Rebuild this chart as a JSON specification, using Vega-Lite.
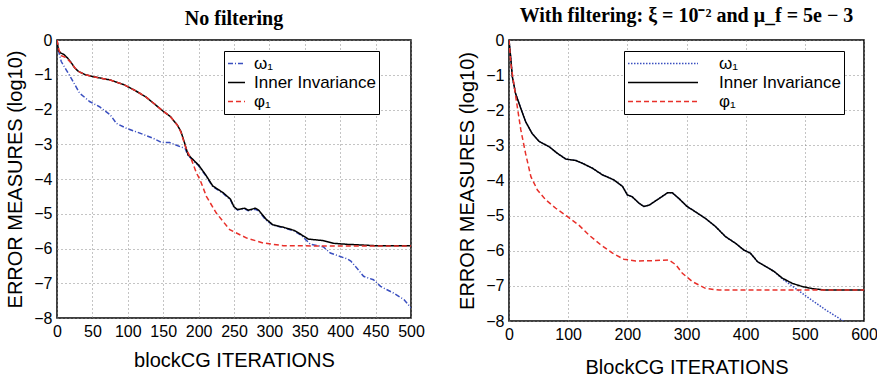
{
  "$schema": "https://vega.github.io/schema/vega-lite/v6.json",
  "background": "white",
  "padding": {"left": 5, "top": 5, "right": 5, "bottom": 5},
  "spacing": 31,
  "config": {
    "font": "Liberation Sans",
    "view": {"stroke": "black", "strokeWidth": 1.5},
    "axis": {
      "labelFont": "Liberation Sans",
      "labelFontSize": 16,
      "labelColor": "black",
      "labelOverlap": false,
      "labelFlush": false,
      "titleFont": "Liberation Sans",
      "titleFontSize": 20,
      "titleFontWeight": "normal",
      "titleColor": "black",
      "ticks": false,
      "domain": false,
      "grid": true,
      "gridColor": "#888",
      "gridDash": [1, 3],
      "gridWidth": 1,
      "labelPadding": 5
    },
    "title": {"font": "Liberation Serif", "fontSize": 20, "fontWeight": "bold", "color": "black", "anchor": "middle"},
    "legend": {
      "orient": "none",
      "strokeColor": "black",
      "fillColor": "white",
      "padding": 3,
      "symbolType": "stroke",
      "symbolStrokeWidth": 1.5,
      "labelFont": "Liberation Sans",
      "labelFontSize": 17,
      "labelColor": "black",
      "rowPadding": 0,
      "clipHeight": 19,
      "labelLimit": 300
    }
  },
  "datasets": {
    "left": [
      {"x": 0, "y": 0, "s": "ω₁"}, {"x": 2, "y": -0.3, "s": "ω₁"}, {"x": 6, "y": -0.62, "s": "ω₁"}, {"x": 13, "y": -0.86, "s": "ω₁"}, {"x": 20, "y": -1.1, "s": "ω₁"}, {"x": 32, "y": -1.53, "s": "ω₁"}, {"x": 46, "y": -1.77, "s": "ω₁"}, {"x": 60, "y": -1.92, "s": "ω₁"}, {"x": 75, "y": -2.15, "s": "ω₁"}, {"x": 84, "y": -2.4, "s": "ω₁"}, {"x": 98, "y": -2.54, "s": "ω₁"}, {"x": 117, "y": -2.68, "s": "ω₁"}, {"x": 136, "y": -2.83, "s": "ω₁"}, {"x": 148, "y": -2.95, "s": "ω₁"}, {"x": 159, "y": -2.95, "s": "ω₁"}, {"x": 174, "y": -3.07, "s": "ω₁"}, {"x": 181, "y": -3.12, "s": "ω₁"}, {"x": 185, "y": -3.32, "s": "ω₁"}, {"x": 200, "y": -3.62, "s": "ω₁"}, {"x": 210, "y": -3.9, "s": "ω₁"}, {"x": 220, "y": -4.22, "s": "ω₁"}, {"x": 235, "y": -4.42, "s": "ω₁"}, {"x": 245, "y": -4.6, "s": "ω₁"}, {"x": 250, "y": -4.82, "s": "ω₁"}, {"x": 255, "y": -4.89, "s": "ω₁"}, {"x": 265, "y": -4.86, "s": "ω₁"}, {"x": 270, "y": -4.91, "s": "ω₁"}, {"x": 280, "y": -4.87, "s": "ω₁"}, {"x": 285, "y": -4.92, "s": "ω₁"}, {"x": 295, "y": -5.18, "s": "ω₁"}, {"x": 305, "y": -5.33, "s": "ω₁"}, {"x": 320, "y": -5.4, "s": "ω₁"}, {"x": 335, "y": -5.5, "s": "ω₁"}, {"x": 345, "y": -5.62, "s": "ω₁"}, {"x": 358, "y": -5.88, "s": "ω₁"}, {"x": 376, "y": -5.95, "s": "ω₁"}, {"x": 386, "y": -6.13, "s": "ω₁"}, {"x": 400, "y": -6.23, "s": "ω₁"}, {"x": 410, "y": -6.3, "s": "ω₁"}, {"x": 415, "y": -6.36, "s": "ω₁"}, {"x": 423, "y": -6.55, "s": "ω₁"}, {"x": 433, "y": -6.8, "s": "ω₁"}, {"x": 447, "y": -6.9, "s": "ω₁"}, {"x": 457, "y": -7.09, "s": "ω₁"}, {"x": 475, "y": -7.28, "s": "ω₁"}, {"x": 490, "y": -7.47, "s": "ω₁"}, {"x": 500, "y": -7.71, "s": "ω₁"},
      {"x": 0, "y": 0, "s": "Inner Invariance"}, {"x": 2, "y": -0.3, "s": "Inner Invariance"}, {"x": 5, "y": -0.37, "s": "Inner Invariance"}, {"x": 10, "y": -0.42, "s": "Inner Invariance"}, {"x": 15, "y": -0.52, "s": "Inner Invariance"}, {"x": 20, "y": -0.65, "s": "Inner Invariance"}, {"x": 25, "y": -0.8, "s": "Inner Invariance"}, {"x": 30, "y": -0.9, "s": "Inner Invariance"}, {"x": 40, "y": -1.0, "s": "Inner Invariance"}, {"x": 50, "y": -1.05, "s": "Inner Invariance"}, {"x": 75, "y": -1.15, "s": "Inner Invariance"}, {"x": 95, "y": -1.29, "s": "Inner Invariance"}, {"x": 110, "y": -1.45, "s": "Inner Invariance"}, {"x": 125, "y": -1.63, "s": "Inner Invariance"}, {"x": 140, "y": -1.88, "s": "Inner Invariance"}, {"x": 150, "y": -2.05, "s": "Inner Invariance"}, {"x": 160, "y": -2.2, "s": "Inner Invariance"}, {"x": 170, "y": -2.45, "s": "Inner Invariance"}, {"x": 175, "y": -2.63, "s": "Inner Invariance"}, {"x": 180, "y": -2.95, "s": "Inner Invariance"}, {"x": 185, "y": -3.3, "s": "Inner Invariance"}, {"x": 200, "y": -3.6, "s": "Inner Invariance"}, {"x": 210, "y": -3.88, "s": "Inner Invariance"}, {"x": 220, "y": -4.2, "s": "Inner Invariance"}, {"x": 235, "y": -4.4, "s": "Inner Invariance"}, {"x": 245, "y": -4.58, "s": "Inner Invariance"}, {"x": 250, "y": -4.8, "s": "Inner Invariance"}, {"x": 255, "y": -4.88, "s": "Inner Invariance"}, {"x": 265, "y": -4.84, "s": "Inner Invariance"}, {"x": 270, "y": -4.9, "s": "Inner Invariance"}, {"x": 280, "y": -4.84, "s": "Inner Invariance"}, {"x": 285, "y": -4.9, "s": "Inner Invariance"}, {"x": 295, "y": -5.15, "s": "Inner Invariance"}, {"x": 305, "y": -5.32, "s": "Inner Invariance"}, {"x": 320, "y": -5.39, "s": "Inner Invariance"}, {"x": 335, "y": -5.48, "s": "Inner Invariance"}, {"x": 345, "y": -5.6, "s": "Inner Invariance"}, {"x": 355, "y": -5.73, "s": "Inner Invariance"}, {"x": 375, "y": -5.77, "s": "Inner Invariance"}, {"x": 390, "y": -5.85, "s": "Inner Invariance"}, {"x": 410, "y": -5.88, "s": "Inner Invariance"}, {"x": 450, "y": -5.92, "s": "Inner Invariance"}, {"x": 500, "y": -5.92, "s": "Inner Invariance"},
      {"x": 0, "y": 0, "s": "φ₁"}, {"x": 3, "y": -0.3, "s": "φ₁"}, {"x": 6, "y": -0.45, "s": "φ₁"}, {"x": 10, "y": -0.48, "s": "φ₁"}, {"x": 15, "y": -0.55, "s": "φ₁"}, {"x": 20, "y": -0.66, "s": "φ₁"}, {"x": 25, "y": -0.8, "s": "φ₁"}, {"x": 30, "y": -0.9, "s": "φ₁"}, {"x": 40, "y": -1.0, "s": "φ₁"}, {"x": 50, "y": -1.05, "s": "φ₁"}, {"x": 75, "y": -1.15, "s": "φ₁"}, {"x": 95, "y": -1.29, "s": "φ₁"}, {"x": 110, "y": -1.45, "s": "φ₁"}, {"x": 125, "y": -1.63, "s": "φ₁"}, {"x": 140, "y": -1.88, "s": "φ₁"}, {"x": 150, "y": -2.05, "s": "φ₁"}, {"x": 160, "y": -2.2, "s": "φ₁"}, {"x": 170, "y": -2.45, "s": "φ₁"}, {"x": 175, "y": -2.65, "s": "φ₁"}, {"x": 180, "y": -2.98, "s": "φ₁"}, {"x": 183, "y": -3.16, "s": "φ₁"}, {"x": 190, "y": -3.45, "s": "φ₁"}, {"x": 197, "y": -3.83, "s": "φ₁"}, {"x": 202, "y": -4.02, "s": "φ₁"}, {"x": 211, "y": -4.5, "s": "φ₁"}, {"x": 225, "y": -4.98, "s": "φ₁"}, {"x": 244, "y": -5.46, "s": "φ₁"}, {"x": 268, "y": -5.7, "s": "φ₁"}, {"x": 291, "y": -5.84, "s": "φ₁"}, {"x": 320, "y": -5.92, "s": "φ₁"}, {"x": 400, "y": -5.93, "s": "φ₁"}, {"x": 500, "y": -5.93, "s": "φ₁"}
    ],
    "right": [
      {"x": 0, "y": 0, "s": "ω₁"}, {"x": 3, "y": -0.52, "s": "ω₁"}, {"x": 5.6, "y": -1.04, "s": "ω₁"}, {"x": 11, "y": -1.52, "s": "ω₁"}, {"x": 20, "y": -1.95, "s": "ω₁"}, {"x": 28, "y": -2.32, "s": "ω₁"}, {"x": 39, "y": -2.66, "s": "ω₁"}, {"x": 51, "y": -2.89, "s": "ω₁"}, {"x": 68, "y": -3.04, "s": "ω₁"}, {"x": 82, "y": -3.23, "s": "ω₁"}, {"x": 96, "y": -3.39, "s": "ω₁"}, {"x": 113, "y": -3.43, "s": "ω₁"}, {"x": 124, "y": -3.51, "s": "ω₁"}, {"x": 141, "y": -3.65, "s": "ω₁"}, {"x": 158, "y": -3.84, "s": "ω₁"}, {"x": 177, "y": -3.98, "s": "ω₁"}, {"x": 192, "y": -4.17, "s": "ω₁"}, {"x": 200, "y": -4.41, "s": "ω₁"}, {"x": 208, "y": -4.46, "s": "ω₁"}, {"x": 220, "y": -4.65, "s": "ω₁"}, {"x": 228, "y": -4.74, "s": "ω₁"}, {"x": 237, "y": -4.7, "s": "ω₁"}, {"x": 254, "y": -4.51, "s": "ω₁"}, {"x": 268, "y": -4.35, "s": "ω₁"}, {"x": 276, "y": -4.35, "s": "ω₁"}, {"x": 287, "y": -4.51, "s": "ω₁"}, {"x": 301, "y": -4.74, "s": "ω₁"}, {"x": 315, "y": -4.89, "s": "ω₁"}, {"x": 332, "y": -5.08, "s": "ω₁"}, {"x": 349, "y": -5.31, "s": "ω₁"}, {"x": 366, "y": -5.6, "s": "ω₁"}, {"x": 383, "y": -5.79, "s": "ω₁"}, {"x": 397, "y": -5.98, "s": "ω₁"}, {"x": 408, "y": -6.07, "s": "ω₁"}, {"x": 420, "y": -6.31, "s": "ω₁"}, {"x": 434, "y": -6.45, "s": "ω₁"}, {"x": 448, "y": -6.59, "s": "ω₁"}, {"x": 462, "y": -6.8, "s": "ω₁"}, {"x": 484, "y": -7.07, "s": "ω₁"}, {"x": 507, "y": -7.35, "s": "ω₁"}, {"x": 535, "y": -7.68, "s": "ω₁"}, {"x": 565, "y": -8.0, "s": "ω₁"},
      {"x": 0, "y": 0, "s": "Inner Invariance"}, {"x": 3, "y": -0.52, "s": "Inner Invariance"}, {"x": 5.6, "y": -1.04, "s": "Inner Invariance"}, {"x": 11, "y": -1.52, "s": "Inner Invariance"}, {"x": 20, "y": -1.95, "s": "Inner Invariance"}, {"x": 28, "y": -2.32, "s": "Inner Invariance"}, {"x": 39, "y": -2.66, "s": "Inner Invariance"}, {"x": 51, "y": -2.89, "s": "Inner Invariance"}, {"x": 68, "y": -3.04, "s": "Inner Invariance"}, {"x": 82, "y": -3.23, "s": "Inner Invariance"}, {"x": 96, "y": -3.39, "s": "Inner Invariance"}, {"x": 113, "y": -3.43, "s": "Inner Invariance"}, {"x": 124, "y": -3.51, "s": "Inner Invariance"}, {"x": 141, "y": -3.65, "s": "Inner Invariance"}, {"x": 158, "y": -3.84, "s": "Inner Invariance"}, {"x": 177, "y": -3.98, "s": "Inner Invariance"}, {"x": 192, "y": -4.17, "s": "Inner Invariance"}, {"x": 200, "y": -4.41, "s": "Inner Invariance"}, {"x": 208, "y": -4.46, "s": "Inner Invariance"}, {"x": 220, "y": -4.65, "s": "Inner Invariance"}, {"x": 228, "y": -4.74, "s": "Inner Invariance"}, {"x": 237, "y": -4.7, "s": "Inner Invariance"}, {"x": 254, "y": -4.51, "s": "Inner Invariance"}, {"x": 268, "y": -4.35, "s": "Inner Invariance"}, {"x": 276, "y": -4.35, "s": "Inner Invariance"}, {"x": 287, "y": -4.51, "s": "Inner Invariance"}, {"x": 301, "y": -4.74, "s": "Inner Invariance"}, {"x": 315, "y": -4.89, "s": "Inner Invariance"}, {"x": 332, "y": -5.08, "s": "Inner Invariance"}, {"x": 349, "y": -5.31, "s": "Inner Invariance"}, {"x": 366, "y": -5.6, "s": "Inner Invariance"}, {"x": 383, "y": -5.79, "s": "Inner Invariance"}, {"x": 397, "y": -5.98, "s": "Inner Invariance"}, {"x": 408, "y": -6.07, "s": "Inner Invariance"}, {"x": 420, "y": -6.31, "s": "Inner Invariance"}, {"x": 434, "y": -6.45, "s": "Inner Invariance"}, {"x": 448, "y": -6.59, "s": "Inner Invariance"}, {"x": 462, "y": -6.78, "s": "Inner Invariance"}, {"x": 479, "y": -6.93, "s": "Inner Invariance"}, {"x": 496, "y": -7.02, "s": "Inner Invariance"}, {"x": 513, "y": -7.08, "s": "Inner Invariance"}, {"x": 535, "y": -7.12, "s": "Inner Invariance"}, {"x": 600, "y": -7.12, "s": "Inner Invariance"},
      {"x": 0, "y": 0, "s": "φ₁"}, {"x": 3, "y": -0.66, "s": "φ₁"}, {"x": 8, "y": -1.23, "s": "φ₁"}, {"x": 14, "y": -1.9, "s": "φ₁"}, {"x": 20, "y": -2.56, "s": "φ₁"}, {"x": 28, "y": -3.23, "s": "φ₁"}, {"x": 37, "y": -3.89, "s": "φ₁"}, {"x": 48, "y": -4.27, "s": "φ₁"}, {"x": 62, "y": -4.55, "s": "φ₁"}, {"x": 79, "y": -4.79, "s": "φ₁"}, {"x": 99, "y": -5.03, "s": "φ₁"}, {"x": 118, "y": -5.27, "s": "φ₁"}, {"x": 135, "y": -5.55, "s": "φ₁"}, {"x": 155, "y": -5.83, "s": "φ₁"}, {"x": 175, "y": -6.07, "s": "φ₁"}, {"x": 194, "y": -6.24, "s": "φ₁"}, {"x": 214, "y": -6.29, "s": "φ₁"}, {"x": 248, "y": -6.28, "s": "φ₁"}, {"x": 270, "y": -6.26, "s": "φ₁"}, {"x": 282, "y": -6.4, "s": "φ₁"}, {"x": 293, "y": -6.64, "s": "φ₁"}, {"x": 310, "y": -6.88, "s": "φ₁"}, {"x": 332, "y": -7.07, "s": "φ₁"}, {"x": 355, "y": -7.12, "s": "φ₁"}, {"x": 600, "y": -7.12, "s": "φ₁"}
    ]
  },
  "resolve": {"scale": {"color": "independent", "strokeDash": "independent"}, "legend": {"color": "independent", "strokeDash": "independent"}},
  "hconcat": [
    {
      "title": {"text": "No filtering", "offset": 3},
      "width": 354,
      "height": 278,
      "data": {"name": "left"},
      "mark": {"type": "line", "strokeWidth": 1.5, "clip": true},
      "encoding": {
        "x": {"field": "x", "type": "quantitative", "scale": {"domain": [0, 500], "nice": false}, "axis": {"values": [0, 50, 100, 150, 200, 250, 300, 350, 400, 450, 500], "title": "blockCG ITERATIONS", "titlePadding": 11}},
        "y": {"field": "y", "type": "quantitative", "scale": {"domain": [-8, 0], "nice": false}, "axis": {"values": [0, -1, -2, -3, -4, -5, -6, -7, -8], "title": "ERROR MEASURES (log10)", "titlePadding": 8}},
        "color": {"field": "s", "type": "nominal", "sort": null, "scale": {"domain": ["ω₁", "Inner Invariance", "φ₁"], "range": ["#3a4fc0", "#000000", "#e8302a"]}, "legend": {"title": null, "orient": "none", "legendX": 167, "legendY": 11, "symbolSize": 289, "labelOffset": 8}},
        "strokeDash": {"field": "s", "type": "nominal", "sort": null, "scale": {"domain": ["ω₁", "Inner Invariance", "φ₁"], "range": [[5, 2, 1, 2], [1, 0], [5, 3]]}, "legend": {"title": null, "orient": "none", "legendX": 167, "legendY": 11, "symbolSize": 289, "labelOffset": 8}},
        "detail": {"field": "s"}
      }
    },
    {
      "title": {"text": "With filtering: ξ = 10⁻² and μ_f = 5e − 3", "offset": 6},
      "width": 355,
      "height": 281,
      "data": {"name": "right"},
      "mark": {"type": "line", "strokeWidth": 1.5, "clip": true},
      "encoding": {
        "x": {"field": "x", "type": "quantitative", "scale": {"domain": [0, 600], "nice": false}, "axis": {"values": [0, 100, 200, 300, 400, 500, 600], "title": "BlockCG ITERATIONS", "titlePadding": 15}},
        "y": {"field": "y", "type": "quantitative", "scale": {"domain": [-8, 0], "nice": false}, "axis": {"values": [0, -1, -2, -3, -4, -5, -6, -7, -8], "title": "ERROR MEASURES (log10)", "titlePadding": 8}},
        "color": {"field": "s", "type": "nominal", "sort": null, "scale": {"domain": ["ω₁", "Inner Invariance", "φ₁"], "range": ["#3a4fc0", "#000000", "#e8302a"]}, "legend": {"title": null, "orient": "none", "legendX": 115, "legendY": 11, "symbolSize": 4900, "labelOffset": 20}},
        "strokeDash": {"field": "s", "type": "nominal", "sort": null, "scale": {"domain": ["ω₁", "Inner Invariance", "φ₁"], "range": [[1.5, 1.5], [1, 0], [5, 3]]}, "legend": {"title": null, "orient": "none", "legendX": 115, "legendY": 11, "symbolSize": 4900, "labelOffset": 20}},
        "detail": {"field": "s"}
      }
    }
  ]
}
